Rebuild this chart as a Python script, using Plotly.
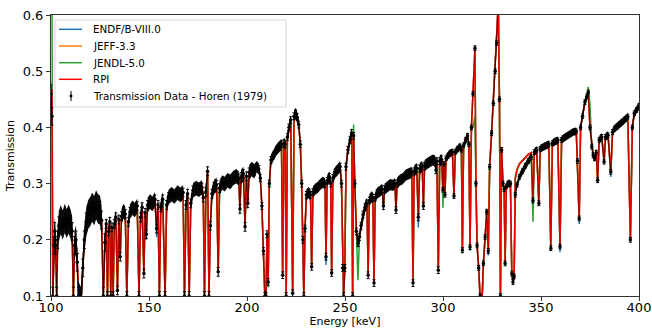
import numpy as np
import plotly.graph_objects as go

# ---------------- data ----------------
# Common evaluated transmission curve (RPI), split into energy segments [keV]
energy_a = [100.0, 100.5, 100.9, 101.4, 101.9, 102.4, 102.9, 103.4, 104.0, 105.0, 106.0, 107.0, 108.0,
            109.0, 110.0, 110.8, 111.4, 112.0, 112.7, 113.4, 114.0, 115.3, 116.2, 117.0, 118.0, 119.0,
            120.0, 121.0, 122.0, 123.0, 124.0, 125.0, 125.8]
trans_a = [0.46, 0.468, 0.10, 0.19, 0.215, 0.19, 0.10, 0.20, 0.225, 0.236, 0.226, 0.238, 0.229,
           0.237, 0.228, 0.215, 0.10, 0.19, 0.20, 0.16, 0.10, 0.09, 0.15, 0.20, 0.232, 0.245,
           0.250, 0.258, 0.252, 0.262, 0.255, 0.253, 0.235]

energy_b = [126.7, 127.5, 128.2, 128.8, 129.4, 130.0, 130.5, 131.1, 131.7, 132.3, 133.1, 133.9, 134.6,
            135.3, 136.0, 137.0, 137.9, 138.7, 139.5, 140.3, 141.5, 142.7, 144.0, 144.9, 145.7, 146.5,
            147.4, 148.0, 148.6, 149.3, 150.5, 151.8, 153.0, 153.9, 154.6, 155.3, 156.0, 157.0, 158.2, 159.0]
trans_b = [0.10, 0.195, 0.228, 0.10, 0.215, 0.232, 0.10, 0.222, 0.10, 0.228, 0.240, 0.11, 0.236,
           0.17, 0.242, 0.251, 0.246, 0.10, 0.232, 0.250, 0.257, 0.253, 0.260, 0.10, 0.240, 0.258,
           0.14, 0.248, 0.21, 0.262, 0.268, 0.264, 0.272, 0.22, 0.262, 0.10, 0.258, 0.272, 0.10, 0.262]

energy_c = [160.0, 161.5, 163.0, 164.5, 166.0, 167.4, 168.1, 168.9, 169.7, 170.5, 171.3, 172.5, 174.0,
            175.5, 177.0, 177.7, 178.3, 179.0, 179.9, 180.6, 181.3, 182.1, 183.2, 184.5, 185.3, 186.0,
            187.3, 188.7, 190.0, 191.5, 193.0, 194.5, 195.8, 196.4, 197.0, 198.2, 199.0, 199.7, 200.4,
            201.1, 202.4, 203.7, 205.0]
trans_c = [0.276, 0.281, 0.277, 0.284, 0.280, 0.284, 0.10, 0.262, 0.282, 0.10, 0.265, 0.288, 0.292,
           0.289, 0.293, 0.275, 0.10, 0.285, 0.322, 0.10, 0.225, 0.282, 0.294, 0.298, 0.143, 0.292,
           0.302, 0.299, 0.306, 0.303, 0.310, 0.313, 0.309, 0.255, 0.312, 0.317, 0.223, 0.313, 0.265,
           0.320, 0.326, 0.322, 0.330]

energy_d = [206.0, 206.8, 207.6, 208.4, 209.1, 209.7, 210.2, 210.8, 211.4, 212.2, 213.5, 215.0, 216.5,
            217.6, 218.2, 218.8, 219.5, 220.0, 220.6, 221.4, 222.3, 223.3, 224.0, 224.8, 225.6, 226.4,
            227.2, 227.9, 228.5, 229.0, 229.6, 230.3, 231.5, 232.4, 233.0, 233.6, 234.8, 236.0, 237.3,
            238.6, 239.8, 240.3, 240.9, 242.0, 242.7, 243.2, 243.8, 245.0, 246.3, 247.5, 248.2, 248.8,
            249.3, 249.9]
trans_d = [0.326, 0.31, 0.26, 0.18, 0.10, 0.10, 0.21, 0.125, 0.30, 0.342, 0.350, 0.360, 0.366,
           0.370, 0.137, 0.372, 0.370, 0.10, 0.383, 0.400, 0.413, 0.105, 0.420, 0.425, 0.418, 0.405,
           0.370, 0.300, 0.200, 0.10, 0.22, 0.280, 0.284, 0.280, 0.152, 0.285, 0.290, 0.293, 0.298,
           0.302, 0.300, 0.17, 0.305, 0.312, 0.300, 0.141, 0.310, 0.320, 0.325, 0.330, 0.300, 0.150,
           0.10, 0.150]

energy_e = [250.5, 251.5, 252.6, 253.4, 253.9, 254.4, 255.0, 255.8, 256.6, 257.4, 258.2, 259.2, 260.2,
            261.2, 261.8, 262.4, 263.4, 264.2, 264.8, 265.4, 266.4, 267.8, 269.0, 269.6, 270.2, 271.6,
            273.0, 274.5, 275.5, 276.0, 276.6, 278.0, 279.5, 281.0, 282.5, 284.1, 284.7, 285.3, 286.6,
            287.4, 288.1, 289.4, 290.0, 290.6, 292.0, 293.4, 294.8, 296.0, 296.4, 296.9, 297.6, 298.3, 299.3]
trans_e = [0.330, 0.360, 0.378, 0.390, 0.10, 0.385, 0.300, 0.215, 0.194, 0.205, 0.225, 0.245, 0.258,
           0.265, 0.137, 0.270, 0.276, 0.275, 0.123, 0.275, 0.283, 0.286, 0.290, 0.260, 0.290, 0.294,
           0.298, 0.297, 0.300, 0.253, 0.301, 0.306, 0.309, 0.315, 0.318, 0.320, 0.123, 0.322, 0.327,
           0.240, 0.327, 0.330, 0.260, 0.332, 0.336, 0.339, 0.342, 0.340, 0.324, 0.340, 0.146, 0.340, 0.343]

energy_f = [300.0, 300.5, 301.0, 301.6, 302.6, 303.6, 304.8, 305.6, 306.3, 307.5, 308.7, 309.4, 309.9,
            310.5, 311.5, 312.5, 313.2, 313.8, 314.5, 315.3, 316.3, 316.8, 317.4, 318.2, 318.9, 319.8,
            320.6, 321.5, 322.3, 323.1, 323.8, 324.8, 325.7, 326.6, 327.4, 328.2, 328.8, 329.3, 329.9,
            330.6, 331.2, 331.7, 332.3, 333.2, 334.4, 335.1, 335.7, 336.3, 336.9]
trans_f = [0.289, 0.335, 0.280, 0.345, 0.350, 0.354, 0.356, 0.278, 0.357, 0.362, 0.366, 0.360, 0.182,
           0.368, 0.378, 0.385, 0.370, 0.187, 0.400, 0.460, 0.541, 0.300, 0.190, 0.150, 0.100, 0.080,
           0.158, 0.205, 0.250, 0.180, 0.330, 0.390, 0.443, 0.500, 0.550, 0.620, 0.450, 0.100, 0.360,
           0.300, 0.290, 0.158, 0.295, 0.300, 0.300, 0.140, 0.125, 0.135, 0.310]

energy_g = [337.8, 339.0, 340.5, 342.0, 343.5, 345.0, 345.9, 346.6, 347.8, 348.9, 349.6, 351.0, 352.5,
            354.0, 355.0, 355.8, 357.2, 358.6, 359.7, 360.5, 362.0, 363.5, 365.0, 366.5, 368.0, 368.6,
            369.5, 370.2, 371.2, 372.4, 373.4, 374.1, 375.0, 375.9, 376.6, 377.3, 378.2, 378.9, 379.7,
            381.0, 382.2, 382.9, 384.2, 385.6, 386.5, 387.6, 388.8, 390.2, 391.6, 393.0, 394.3, 395.6,
            396.6, 397.6, 398.8, 400.0]
trans_g = [0.325, 0.335, 0.341, 0.347, 0.352, 0.355, 0.270, 0.356, 0.360, 0.265, 0.362, 0.365, 0.368,
           0.370, 0.185, 0.372, 0.375, 0.377, 0.188, 0.378, 0.382, 0.385, 0.388, 0.392, 0.393, 0.340,
           0.238, 0.400, 0.420, 0.445, 0.455, 0.462, 0.400, 0.366, 0.351, 0.345, 0.355, 0.306, 0.378,
           0.383, 0.339, 0.383, 0.386, 0.321, 0.392, 0.398, 0.401, 0.406, 0.410, 0.415, 0.419, 0.200,
           0.400, 0.425, 0.431, 0.438]

# Where the other libraries visibly differ from the RPI curve
jendl_E = [100.0, 100.5, 210.8, 254.4, 256.6, 300.0, 309.9, 311.5, 312.5, 313.2, 313.8, 315.3, 316.3,
           345.9, 374.1, 375.0]
jendl_T = [0.70, 0.65, 0.115, 0.405, 0.128, 0.257, 0.175, 0.372, 0.373, 0.372, 0.180, 0.400, 0.420,
           0.232, 0.472, 0.440]
endf_E = [148.6, 153.9, 209.7, 240.3, 287.4, 323.1, 359.7, 369.5, 385.6]
endf_T = [0.200, 0.205, 0.100, 0.155, 0.222, 0.172, 0.178, 0.228, 0.312]
jeff_E = [256.6]
jeff_T = [0.190]

# Measured data (Horen 1979) where it departs from the RPI curve
data_E = [100.5, 336.9, 337.8, 339.0, 340.5, 342.0, 343.5, 345.0]
data_T = [0.42, 0.280, 0.298, 0.312, 0.322, 0.332, 0.340, 0.347]
# uncertainty half-width by energy range
err_edges = [100, 128, 205, 300]
err_half = [0.026, 0.013, 0.010, 0.007]

x_ticks = [100, 150, 200, 250, 300, 350, 400]
y_ticks = [0.1, 0.2, 0.3, 0.4, 0.5, 0.6]

series_names = ["ENDF/B-VIII.0", "JEFF-3.3", "JENDL-5.0", "RPI"]
series_colors = ["#1f77b4", "#ff7f0e", "#2ca02c", "#ff0000"]
data_name = "Transmission Data - Horen (1979)"

# ---------------- assemble ----------------
segs_E = [energy_a, energy_b, energy_c, energy_d, energy_e, energy_f, energy_g]
segs_T = [trans_a, trans_b, trans_c, trans_d, trans_e, trans_f, trans_g]
for a, b in zip(segs_E, segs_T):
    assert len(a) == len(b), (len(a), len(b))
energy = np.array(sum(segs_E, []))
rpi = np.array(sum(segs_T, []))
assert np.all(np.diff(energy) > 0)


def with_overrides(base, oE, oT):
    out = base.copy()
    for e, t in zip(oE, oT):
        out[np.argmin(np.abs(energy - e))] = t
    return out


jendl = with_overrides(rpi, jendl_E, jendl_T)
endf = with_overrides(rpi, endf_E, endf_T)
jeff = with_overrides(rpi, jeff_E, jeff_T)
data = with_overrides(rpi, data_E, data_T)
idx = np.searchsorted(err_edges, energy, side="right") - 1
err = np.array(err_half)[np.clip(idx, 0, len(err_half) - 1)]

FONT = "DejaVu Sans"
fig = go.Figure()
for name, y, col in zip(series_names, [endf, jeff, jendl, rpi], series_colors):
    fig.add_trace(go.Scatter(x=energy, y=y, mode="lines", name=name, showlegend=False,
                             line=dict(color=col, width=1.5)))

# data band (uncertainty) + points with error bars
fig.add_trace(go.Scatter(x=energy, y=data - err, mode="lines", line=dict(width=0, color="black"),
                         showlegend=False, hoverinfo="skip"))
fig.add_trace(go.Scatter(x=energy, y=data + err, mode="lines", line=dict(width=0, color="black"),
                         fill="tonexty", fillcolor="rgba(0,0,0,0.95)", showlegend=False, hoverinfo="skip"))
fig.add_trace(go.Scatter(x=energy, y=data, mode="markers", name=data_name,
                         marker=dict(color="black", size=3.5), showlegend=False,
                         error_y=dict(type="data", array=err * 0.6, thickness=1, width=1.5, color="black")))

# ---------------- legend (drawn in paper coordinates) ----------------
def px2paper_x(px):
    return (px - 51) / 588.0


def px2paper_y(py):
    return (296 - py) / 281.0


shapes = [dict(type="rect", xref="paper", yref="paper", x0=px2paper_x(55), x1=px2paper_x(286),
               y0=px2paper_y(107), y1=px2paper_y(20), line=dict(color="#d5d5d5", width=1),
               fillcolor="rgba(255,255,255,0.85)", layer="above")]
annotations = []
row_y = [29.3, 46.0, 62.7, 79.3, 96.0]
for i, (name, col) in enumerate(zip(series_names, series_colors)):
    shapes.append(dict(type="line", xref="paper", yref="paper", x0=px2paper_x(59), x1=px2paper_x(82),
                       y0=px2paper_y(row_y[i]), y1=px2paper_y(row_y[i]), line=dict(color=col, width=1.5),
                       layer="above"))
    annotations.append(dict(xref="paper", yref="paper", x=px2paper_x(91), y=px2paper_y(row_y[i]),
                            text=name, showarrow=False, xanchor="left", yanchor="middle",
                            font=dict(family=FONT, size=10.3, color="black")))
shapes.append(dict(type="line", xref="paper", yref="paper", x0=px2paper_x(71), x1=px2paper_x(71),
                   y0=px2paper_y(row_y[4] + 5), y1=px2paper_y(row_y[4] - 5),
                   line=dict(color="black", width=1), layer="above"))
shapes.append(dict(type="circle", xref="paper", yref="paper", x0=px2paper_x(69.8), x1=px2paper_x(72.2),
                   y0=px2paper_y(row_y[4] + 1.2), y1=px2paper_y(row_y[4] - 1.2),
                   line=dict(color="black", width=0.5), fillcolor="black", layer="above"))
annotations.append(dict(xref="paper", yref="paper", x=px2paper_x(91), y=px2paper_y(row_y[4]),
                        text=data_name, showarrow=False, xanchor="left", yanchor="middle",
                        font=dict(family=FONT, size=10.3, color="black")))

axis_common = dict(showgrid=False, zeroline=False, showline=True, mirror=True, linecolor="#333",
                   linewidth=1, ticks="outside", ticklen=4, tickcolor="#333",
                   tickfont=dict(family=FONT, size=13, color="black"))
fig.update_layout(
    width=652, height=329, margin=dict(l=51, r=13, t=15, b=33),
    plot_bgcolor="white", paper_bgcolor="white",
    font=dict(family=FONT, color="black"),
    xaxis=dict(range=[100, 400], tickvals=x_ticks, automargin=False, ticklabelstandoff=-5,
               title=dict(text="Energy [keV]", font=dict(family=FONT, size=11), standoff=2),
               **axis_common),
    yaxis=dict(range=[0.1, 0.6], tickvals=y_ticks, tickformat=".1f", automargin=False,
               title=dict(text="Transmission", font=dict(family=FONT, size=11), standoff=5),
               **axis_common),
    shapes=shapes, annotations=annotations,
    showlegend=False,
)
fig.write_html("out.html")
